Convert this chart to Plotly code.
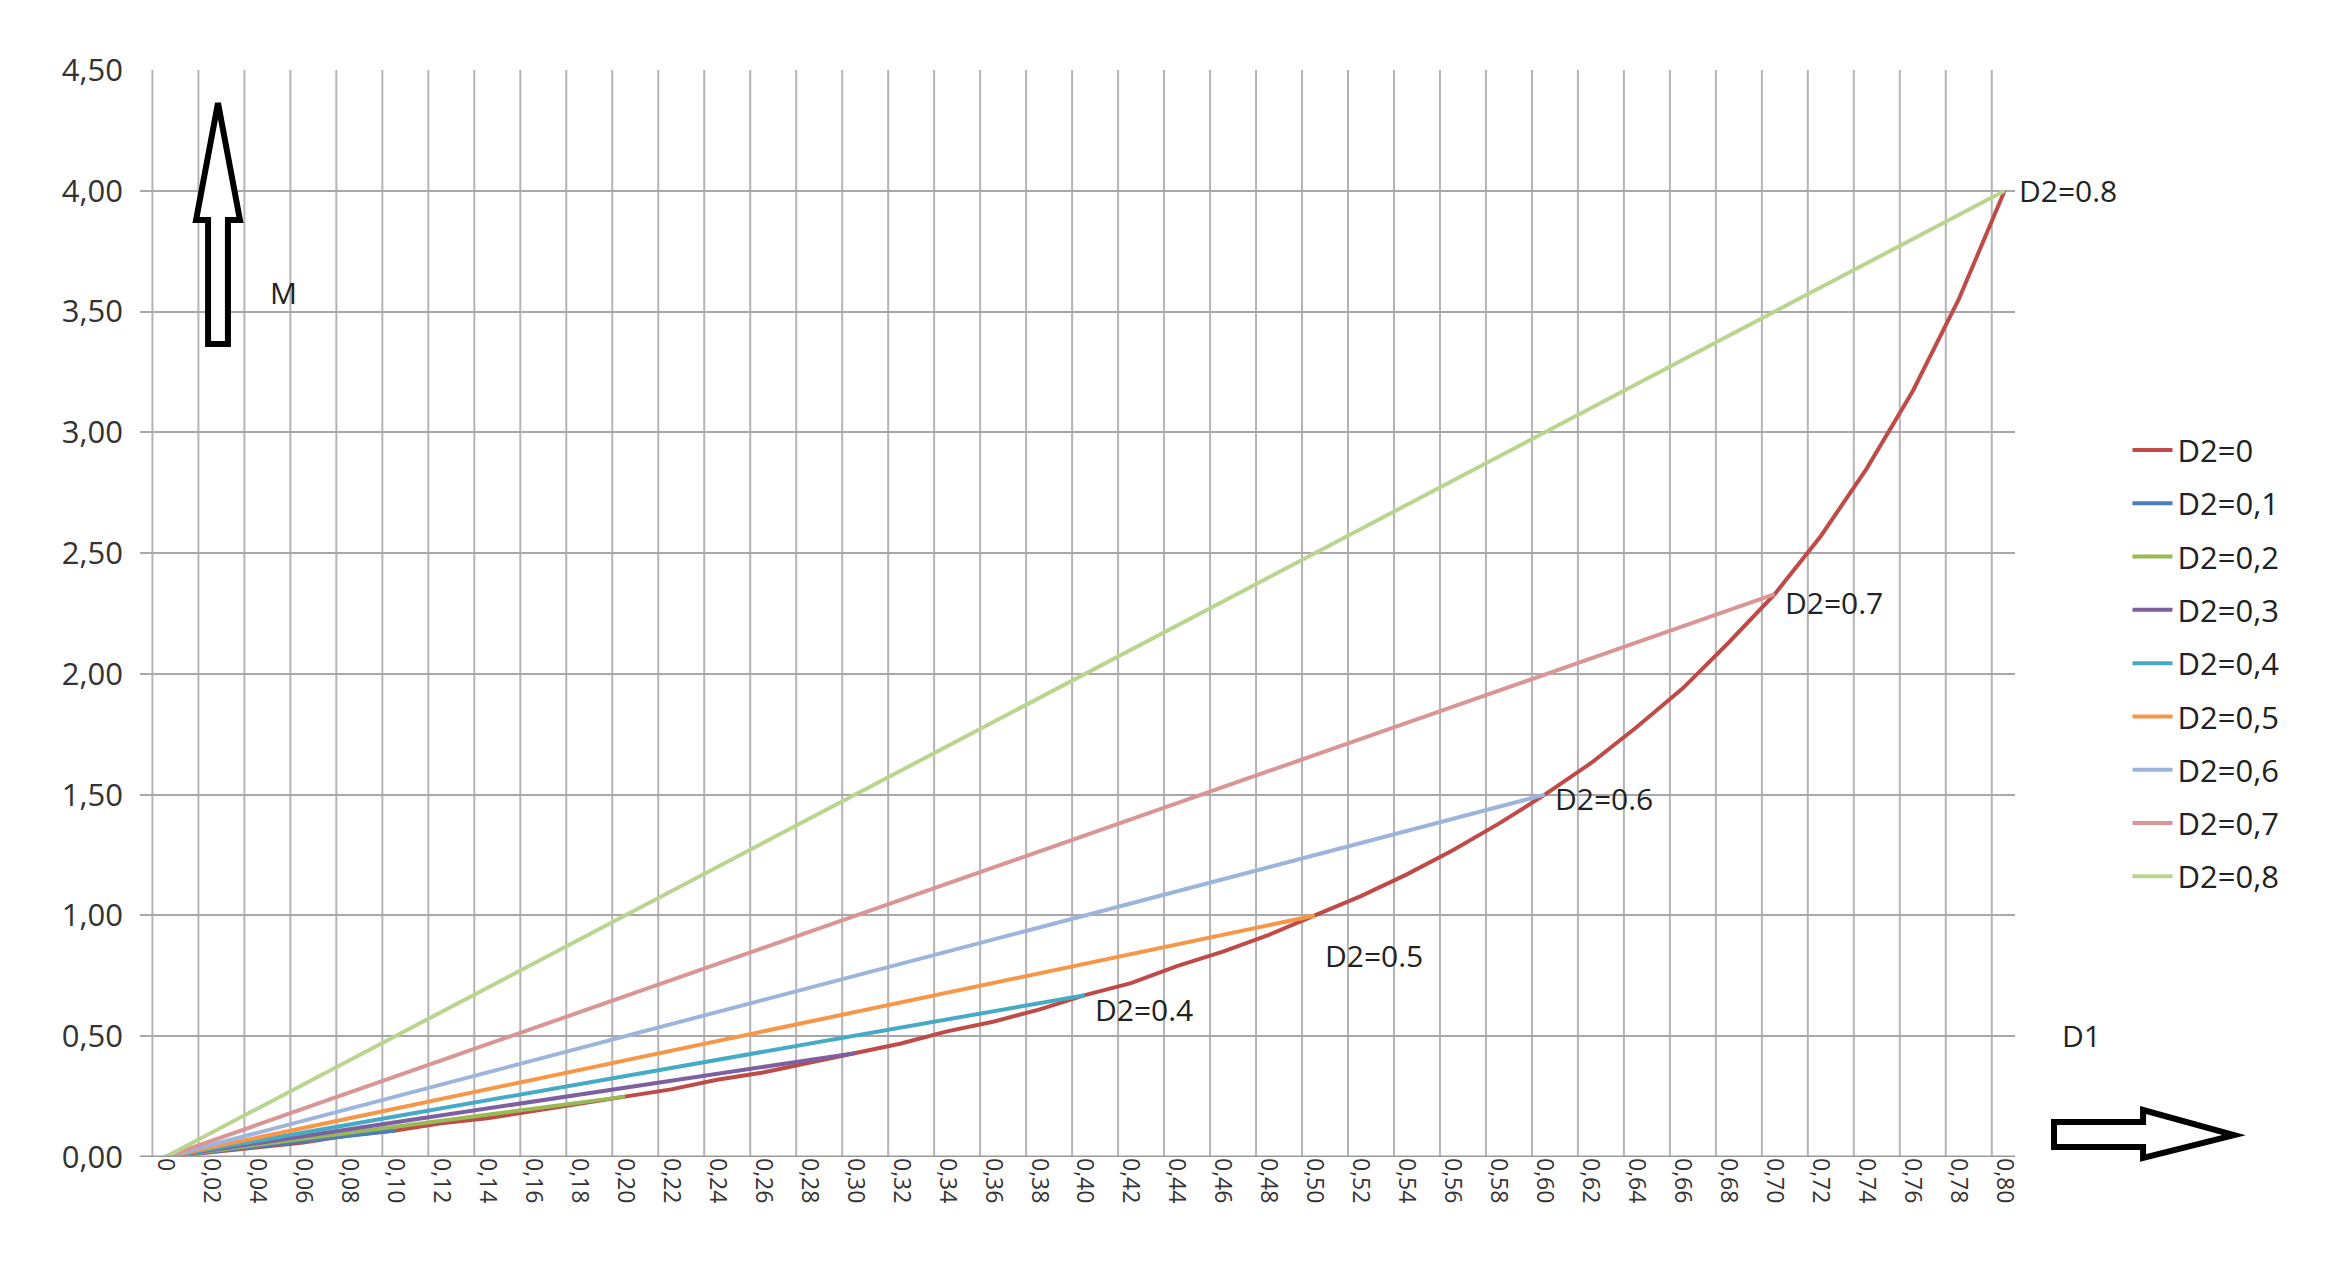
import plotly.graph_objects as go

# D1 categories 0 .. 0.80 step 0.02
d1 = [0.00, 0.02, 0.04, 0.06, 0.08, 0.10, 0.12, 0.14, 0.16, 0.18, 0.20,
      0.22, 0.24, 0.26, 0.28, 0.30, 0.32, 0.34, 0.36, 0.38, 0.40,
      0.42, 0.44, 0.46, 0.48, 0.50, 0.52, 0.54, 0.56, 0.58, 0.60,
      0.62, 0.64, 0.66, 0.68, 0.70, 0.72, 0.74, 0.76, 0.78, 0.80]
tick_labels = ["0"] + ["%.2f" % v for v in d1[1:]]
tick_labels = [t.replace(".", ",") for t in tick_labels]

# D2=0 curve
m_d2_0 = [0.00, 0.02, 0.04, 0.06, 0.09, 0.11, 0.14, 0.16, 0.19, 0.22, 0.25,
          0.28, 0.32, 0.35, 0.39, 0.43, 0.47, 0.52, 0.56, 0.61, 0.67,
          0.72, 0.79, 0.85, 0.92, 1.00, 1.08, 1.17, 1.27, 1.38, 1.50,
          1.63, 1.78, 1.94, 2.13, 2.33, 2.57, 2.85, 3.17, 3.55, 4.00]

# straight lines D2=0.1..0.8: start and end points
d2_names = ["D2=0,1", "D2=0,2", "D2=0,3", "D2=0,4", "D2=0,5", "D2=0,6", "D2=0,7", "D2=0,8"]
line_x = [[0, 0.1], [0, 0.2], [0, 0.3], [0, 0.4], [0, 0.5], [0, 0.6], [0, 0.7], [0, 0.8]]
line_y = [[0, 0.11], [0, 0.25], [0, 0.43], [0, 0.67], [0, 1.00], [0, 1.50], [0, 2.33], [0, 4.00]]

colors = ["#BE4B48", "#4A7EBB", "#98B954", "#7D60A0", "#46AAC5",
          "#F79646", "#9DB4DD", "#D99694", "#B9D58F"]

lab_text = ["D2=0.4", "D2=0.5", "D2=0.6", "D2=0.7", "D2=0.8"]
lab_x = [0.4, 0.5, 0.6, 0.7, 0.8]
lab_y = [0.67, 1.00, 1.50, 2.33, 4.00]
lab_dy = [-14, -40, -4, -8, 0]

L, R, T, B = 132, 2007, 62, 1149


def px(x):
    return (x - L) / (R - L)


def py(y):
    return (B - y) / (B - T)


def path(pts):
    return "M " + " L ".join("%.4f,%.4f" % (px(a), py(b)) for a, b in pts) + " Z"


fig = go.Figure()
fig.add_trace(go.Scatter(x=d1, y=m_d2_0, mode="lines", name="D2=0", legendgroup="g0",
                         line=dict(color=colors[0], width=4)))
for i in range(8):
    fig.add_trace(go.Scatter(x=line_x[i], y=line_y[i], mode="lines", name=d2_names[i],
                             legendgroup="g%d" % (i + 1),
                             line=dict(color=colors[i + 1], width=4)))

shapes = []
for v in d1:
    shapes.append(dict(type="line", xref="x", yref="paper", x0=v - 0.0056, x1=v - 0.0056,
                       y0=0, y1=1, line=dict(color="#b4b4b4", width=2), layer="below"))

# up arrow (outline)
shapes.append(dict(type="path", xref="paper", yref="paper", line=dict(color="black", width=6),
                   fillcolor="white",
                   path=path([(210, 95), (232, 212), (220, 212), (220, 336), (200, 336),
                              (200, 212), (188, 212)])))
# right arrow (outline)
shapes.append(dict(type="path", xref="paper", yref="paper", line=dict(color="black", width=6),
                   fillcolor="white",
                   path=path([(2046, 1114), (2135, 1114), (2135, 1102), (2226, 1127),
                              (2135, 1150), (2135, 1139), (2046, 1139)])))

ann = []
for t, x, y, dy in zip(lab_text, lab_x, lab_y, lab_dy):
    ann.append(dict(x=x, y=y, text=t, showarrow=False, xanchor="left", yanchor="middle",
                    xshift=12 if t == "D2=0.8" else 8, yshift=dy,
                    font=dict(size=30, color="#222")))
ann.append(dict(xref="paper", yref="paper", x=px(260), y=py(262), text="M", showarrow=False,
                xanchor="left", font=dict(size=30, color="#222")))
ann.append(dict(xref="paper", yref="paper", x=px(2052), y=py(1050), text="D1", showarrow=False,
                xanchor="left", font=dict(size=30, color="#222")))

fig.update_layout(
    width=2344, height=1262,
    margin=dict(l=L, r=2344 - R, t=T, b=1262 - B),
    plot_bgcolor="white", paper_bgcolor="white",
    font=dict(family="Open Sans, DejaVu Sans", size=22, color="#333"),
    showlegend=True,
    legend=dict(x=1.06, y=0.675, xanchor="left", yanchor="top",
                font=dict(size=31, color="#222"), tracegroupgap=10, itemwidth=40),
    xaxis=dict(range=[-0.011, 0.8045], tickvals=d1, ticktext=tick_labels, tickangle=90,
               showgrid=False, zeroline=False, showline=False, ticks="",
               tickfont=dict(size=23, color="#333")),
    yaxis=dict(range=[0, 4.5], dtick=0.5, tickformat=".2f",
               gridcolor="#a8a8a8", gridwidth=2, zeroline=False, ticks="",
               tickfont=dict(size=31, color="#333"), ticksuffix="  "),
    separators=", ",
    shapes=shapes,
    annotations=ann,
)
fig.add_hline(y=0, line=dict(color="#999", width=3))

fig.write_html("out.html")
